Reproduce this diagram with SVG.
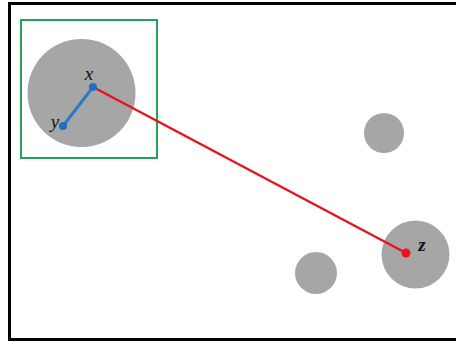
<svg xmlns="http://www.w3.org/2000/svg" width="456" height="344" viewBox="0 0 456 344">
<style>
.blob{fill:#a6a6a6}
.lbl{font-family:"Liberation Serif",serif;font-style:italic;font-size:19px;fill:#111}
</style>
<rect width="456" height="344" fill="#fff"/>
<rect x="9.5" y="3.5" width="470" height="336" fill="none" stroke="#000" stroke-width="3"/>
<g id="group-box"><rect x="21" y="20" width="136" height="138" fill="none" stroke="#1ea55a" stroke-width="2"/></g>
<g id="cluster-a"><circle class="blob" cx="81.5" cy="93" r="54"/></g>
<g id="cluster-b"><circle class="blob" cx="384" cy="133" r="20"/></g>
<g id="cluster-c"><circle class="blob" cx="316" cy="273" r="21"/></g>
<g id="cluster-d"><circle class="blob" cx="415.5" cy="254.5" r="34"/></g>
<g id="connectors">
<line x1="93" y1="87" x2="406" y2="253" stroke="#e8141c" stroke-width="2.5"/>
<line x1="93" y1="87" x2="63" y2="126" stroke="#2b7bc4" stroke-width="3"/>
</g>
<g id="node-x"><circle cx="93" cy="87" r="4" fill="#1f6fbd"/><text class="lbl" x="89" y="80" text-anchor="middle">x</text></g>
<g id="node-y"><circle cx="63" cy="126" r="4" fill="#1f6fbd"/><text class="lbl" x="55" y="128" text-anchor="middle">y</text></g>
<g id="node-z"><circle cx="406" cy="253" r="4.5" fill="#e8141c"/><text class="lbl" x="422" y="251" text-anchor="middle" font-weight="bold">z</text></g>
</svg>
